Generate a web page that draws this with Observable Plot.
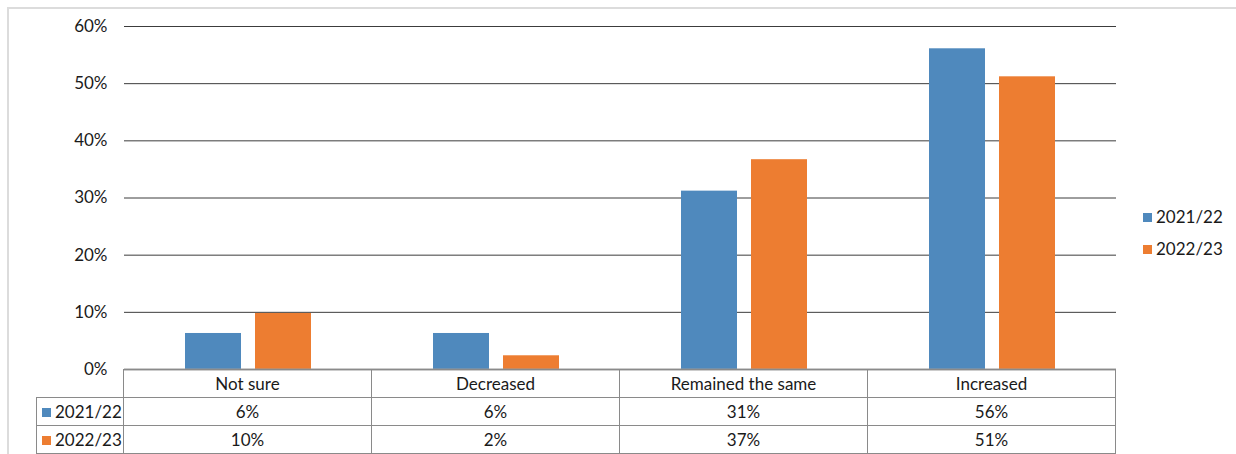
<!DOCTYPE html>
<html>
<head>
<meta charset="utf-8">
<script src="https://cdn.jsdelivr.net/npm/d3@7"></script>
<script src="https://cdn.jsdelivr.net/npm/@observablehq/plot@0.6"></script>
<style>
  html, body { margin: 0; padding: 0; background: #fff; }
  #wrap { position: relative; width: 1236px; height: 454px; overflow: hidden; font-family: Lato, "Open Sans", sans-serif; color: #1a1a1a; }
  #frame { position: absolute; left: 7px; top: 7px; width: 1300px; height: 500px; border-left: 2px solid #dcdcdc; border-top: 2px solid #dcdcdc; }
  #chart { position: absolute; left: 0; top: 0; }
  #table { position: absolute; left: 36px; top: 369px; border-collapse: collapse; table-layout: fixed; font-size: 17px; }
  #table td { border: 1px solid #8a8a8a; height: 27px; padding: 0; text-align: center; white-space: nowrap; line-height: 27px; }
  #table td.corner { border-top: none; border-left: none; }
  #table td.rowhead { text-align: left; padding-left: 5px; }
  .sw { display: inline-block; width: 9px; height: 9px; margin-right: 4px; vertical-align: 1px; }
  #legend { position: absolute; left: 1143px; top: 207px; font-size: 17px; }
  #legend div { height: 32px; line-height: 20px; white-space: nowrap; }
</style>
</head>
<body>
<div id="wrap">
  <div id="frame"></div>
  <div id="chart"></div>
  <table id="table"></table>
  <div id="legend"></div>
</div>
<script>
const categories = ["Not sure", "Decreased", "Remained the same", "Increased"];
const series = ["2021/22", "2022/23"];
const values2021 = [0.063, 0.063, 0.312, 0.561];
const values2022 = [0.098, 0.024, 0.367, 0.512];
const yTicks = [0, 0.1, 0.2, 0.3, 0.4, 0.5, 0.6];
const colors = ["#4f89bd", "#ed7d31"];

const seriesValues = [values2021, values2022];
const data = [];
series.forEach((s, si) => categories.forEach((c, ci) => data.push({category: c, series: s, value: seriesValues[si][ci]})));
const pct = d3.format(".0%");

const plot = Plot.plot({
  width: 1236,
  height: 454,
  marginLeft: 123,
  marginRight: 120,
  marginTop: 26,
  marginBottom: 85,
  style: {fontFamily: "Lato, 'Open Sans', sans-serif", fontSize: "17px", color: "#1a1a1a", background: "transparent"},
  fx: {domain: categories, padding: 0, axis: null},
  x: {domain: series, paddingInner: 0.2, paddingOuter: 0.87, axis: null},
  y: {domain: [0, 0.6], ticks: yTicks, tickFormat: pct, tickSize: 0, tickPadding: 17, label: null},
  color: {domain: series, range: colors},
  marks: [
    Plot.gridY(yTicks.filter(t => t > 0), {stroke: "#3c3c3c", strokeOpacity: 1}),
    Plot.barY(data, {fx: "category", x: "series", y: "value", fill: "series"}),
    Plot.ruleY([0], {stroke: "#9a9a9a", strokeWidth: 2})
  ]
});
document.getElementById("chart").appendChild(plot);

// data table aligned with the fx scale
const fx = plot.scale("fx");
const table = d3.select("#table");
const colgroup = table.append("colgroup");
colgroup.append("col").style("width", (123 - 36) + "px");
categories.forEach(() => colgroup.append("col").style("width", fx.bandwidth + "px"));
const head = table.append("tr");
head.append("td").attr("class", "corner");
categories.forEach(c => head.append("td").text(c));
series.forEach((s, si) => {
  const tr = table.append("tr");
  const th = tr.append("td").attr("class", "rowhead");
  th.append("span").attr("class", "sw").style("background", colors[si]);
  th.append("span").text(s);
  seriesValues[si].forEach(v => tr.append("td").text(pct(v)));
});

// legend
const legend = d3.select("#legend");
series.forEach((s, si) => {
  const item = legend.append("div");
  item.append("span").attr("class", "sw").style("background", colors[si]);
  item.append("span").text(s);
});
</script>
</body>
</html>
